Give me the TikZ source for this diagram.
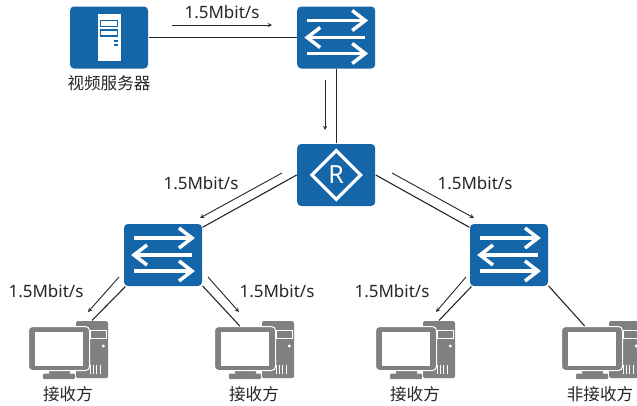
\documentclass[tikz,border=0pt]{standalone}
\usepackage{fontspec}
\usetikzlibrary{shapes.geometric}
\setmainfont{Noto Sans}
\newfontfamily\cjk{Noto Sans CJK SC}
\definecolor{boxblue}{HTML}{1565A9}
\definecolor{pcgray}{HTML}{808080}
\definecolor{labelgray}{HTML}{262626}
\tikzset{
  blue box/.style={fill=boxblue,rounded corners=4pt,inner sep=0pt,minimum width=78pt,minimum height=62pt},
  switch node/.style={blue box,path picture={
      \begin{scope}[shift={(path picture bounding box.center)},draw=white,line width=3.5pt,sharp corners,miter limit=4]
        \draw (-29,-17) -- (28,-17);
        \draw (16,-27) -- (29,-17) -- (16,-7);
        \draw (29,0) -- (-28,0);
        \draw (-16,-10) -- (-29,0) -- (-16,10);
        \draw (-29,16) -- (28,16);
        \draw (16,6) -- (29,16) -- (16,26);
      \end{scope}}},
  router mark/.style={diamond,draw=white,line width=3.2pt,aspect=1,inner sep=0pt,minimum size=50pt,
    text=white,font=\fontsize{25}{25}\selectfont},
  server node/.style={blue box,path picture={
      \begin{scope}[shift={(path picture bounding box.center)},sharp corners]
        \fill[white] (-11.5,-24) rectangle (11.5,23);
        \draw[boxblue,line width=1.2pt] (-8.5,-17) rectangle (8.5,-11);
        \draw[boxblue,line width=1.2pt] (-8.5,-7.5) rectangle (8.5,-1.5);
        \fill[boxblue] (5,2.5) rectangle (9,4.5);
        \fill[boxblue] (5,6) rectangle (9,8);
      \end{scope}}},
  tower node/.style={fill=pcgray,rounded corners=1.5pt,inner sep=0pt,minimum width=32pt,minimum height=57pt,path picture={
      \begin{scope}[shift={(path picture bounding box.center)},sharp corners]
        \draw[white,line width=0.8pt] (-2,-19.5) rectangle (14,-11.5);
        \fill[white] (11.3,-3.5) circle (1.7);
        \foreach \g in {0,3.3,6.6,9.9}
          \draw[white,line width=0.8pt] (\g-2,15) -- (\g-2,24.5);
      \end{scope}}},
  screen node/.style={fill=pcgray,draw=white,line width=1pt,rounded corners=4pt,inner sep=0pt,minimum width=61pt,minimum height=44pt,path picture={
      \fill[white,sharp corners,shift={(path picture bounding box.center)}] (-24,-17) rectangle (24,17);}},
  stand part/.style={fill=pcgray,rounded corners=1pt},
  rate label/.style={text=labelgray,font=\fontsize{17}{17}\selectfont},
  name label/.style={text=labelgray,font=\cjk\fontsize{16.6}{17}\selectfont},
  flow/.style={->,line width=0.9pt}
}
\begin{document}
\begin{tikzpicture}[>=stealth,x=1pt,y=-1pt,line width=1.1pt,color=labelgray]
  \useasboundingbox (0,0) rectangle (637,405);

  \node[server node] (V) at (109,37.5) {};
  \node[switch node] (S1) at (336.2,37.5) {};
  \node[blue box] (R) at (336.2,175) {};
  \node[router mark] (Rmark) at (R.center) {R};
  \node[switch node] (S2) at (163,255) {};
  \node[switch node] (S3) at (509,255) {};

  % receivers: tower, stand, monitor
  \foreach \n/\x in {1/68,2/254,3/415,4/601} {
    \node[tower node] (T\n) at ({\x+24},349.5) {};
    \fill[stand part] ({\x-19},369) rectangle ({\x+2},374);
    \fill[stand part] ({\x-25},373.5) rectangle ({\x+7},379);
    \node[screen node] (M\n) at ({\x-9},348.5) {};
  }

  \node[name label] (Vname) at (109,83) {视频服务器};
  \node[name label] (N1) at (68,394) {接收方};
  \node[name label] (N2) at (254,394) {接收方};
  \node[name label] (N3) at (415,394) {接收方};
  \node[name label] (N4) at (600,394) {非接收方};

  \foreach \n/\x/\y in {a/222/12.5,b/201/183,c/475/183,d/46/291,e/277/291,f/392/291}
    \node[rate label] (L\n) at (\x,\y) {1.5Mbit/s};

  \path
  (V) edge (S1)
  (S1) edge (R)
  (R.west) edge (S2.35)
  (R.east) edge (S3.145)
  (S2.-140) edge (T1.north)
  (S2.-38) edge (M2.103)
  (S3.-140) edge (T3.north)
  (S3.-38) edge (M4.108);

  % direction of the stream
  \foreach \n/\xa/\ya/\xb/\yb in {1/172/25/272/25,2/325/80/325/130,3/282/173/200/218,4/392/173/474/218,
      5/119/277/88/312,6/208/277/239/312,7/466/277/436/312} {
    \coordinate (from\n) at (\xa,\ya);
    \coordinate (to\n) at (\xb,\yb);
    \draw[flow] (from\n) -- (to\n);
  }
\end{tikzpicture}
\end{document}
